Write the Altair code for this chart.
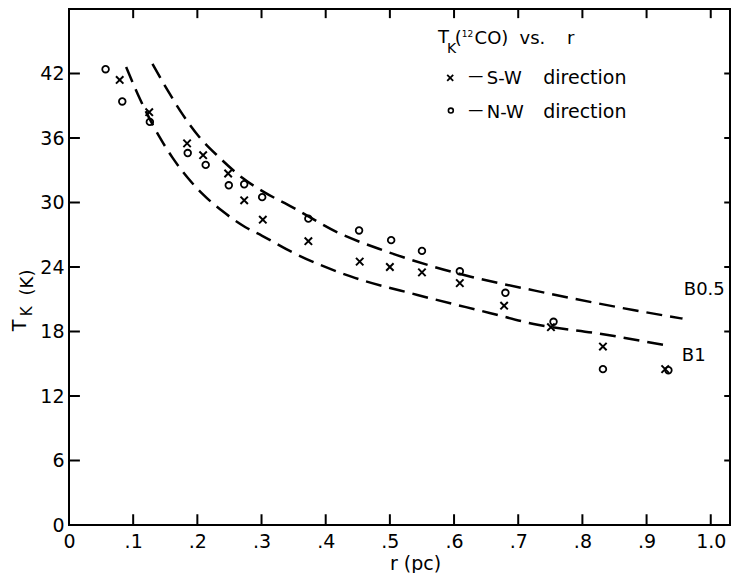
import altair as alt
import pandas as pd

# ---- data ----
SW_R = [0.079, 0.125, 0.184, 0.209, 0.248, 0.273, 0.302, 0.373, 0.453, 0.500, 0.550, 0.609, 0.678, 0.751, 0.832, 0.929]
SW_T = [41.4, 38.4, 35.5, 34.4, 32.7, 30.2, 28.4, 26.4, 24.5, 24.0, 23.5, 22.5, 20.4, 18.4, 16.6, 14.5]

NW_R = [0.057, 0.083, 0.126, 0.185, 0.213, 0.249, 0.273, 0.301, 0.373, 0.452, 0.502, 0.550, 0.609, 0.680, 0.755, 0.832, 0.934]
NW_T = [42.4, 39.4, 37.5, 34.6, 33.5, 31.6, 31.7, 30.5, 28.5, 27.4, 26.5, 25.5, 23.6, 21.6, 18.9, 14.5, 14.4]

B1_R = [0.089, 0.107, 0.141, 0.161, 0.185, 0.208, 0.239, 0.275, 0.301, 0.347, 0.440, 0.543, 0.657, 0.724, 0.827, 0.931]
B1_T = [42.6, 40.1, 36.1, 34.2, 32.3, 30.8, 29.2, 27.7, 26.9, 25.4, 23.1, 21.4, 19.7, 18.7, 17.8, 16.7]

B05_R = [0.130, 0.154, 0.177, 0.203, 0.234, 0.270, 0.306, 0.347, 0.419, 0.492, 0.564, 0.626, 0.726, 0.879, 0.956]
B05_T = [42.9, 40.4, 38.2, 36.1, 34.2, 32.3, 30.9, 29.6, 27.2, 25.5, 24.1, 23.1, 21.8, 20.0, 19.2]

X_LABELS = [0, 0.1, 0.2, 0.3, 0.4, 0.5, 0.6, 0.7, 0.8, 0.9, 1.0]
Y_LABELS = [0, 6, 12, 18, 24, 30, 36, 42]
X_TICKS = [0.1, 0.2, 0.3, 0.4, 0.5, 0.6, 0.7, 0.8, 0.9, 1.0]
Y_TICKS = [6, 12, 18, 24, 30, 36, 42]

CURVE_LABELS = ["B0.5", "B1"]
CURVE_LABEL_R = [0.958, 0.955]
CURVE_LABEL_T = [21.9, 15.7]

# legend block: title with sub/superscripts, then two symbol rows
LEG_TEXT = ["T", "K", "(", "12", "CO)", "vs.", "r",
            "—", "S-W", "direction",
            "—", "N-W", "direction"]
LEG_R = [0.575, 0.589, 0.601, 0.612, 0.632, 0.702, 0.776,
         0.622, 0.651, 0.739,
         0.622, 0.651, 0.739]
LEG_T = [44.85, 43.9, 44.75, 45.35, 44.75, 44.75, 44.75,
         41.3, 41.05, 41.05,
         38.15, 37.9, 37.9]
LEG_SIZE = [18, 14, 18, 9, 18, 18, 18,
            15, 18, 19,
            15, 18, 19]
LEG_SYM_R = [0.594, 0.595]
LEG_SYM_T = [41.6, 38.55]

# rotated y-axis title pieces
YT_TEXT = ["T", "K", "(K)"]
YT_R = [-0.0764, -0.0655, -0.0640]
YT_T = [18.57, 19.87, 22.56]
YT_SIZE = [19, 15, 18]

X_DOMAIN = [0, 1.03]
Y_DOMAIN = [0, 48]

FONT = "DejaVu Sans"

xs = alt.Scale(domain=X_DOMAIN, nice=False, zero=False)
ys = alt.Scale(domain=Y_DOMAIN, nice=False, zero=False)

x_axis = alt.Axis(
    values=X_LABELS,
    labelExpr="datum.value == 0 ? '0' : (datum.value == 1 ? '1.0' : '.' + format(datum.value * 10, 'd'))",
    ticks=False, domain=False, grid=False, labelFlush=False, labelOverlap=False,
    labelFont=FONT, labelFontSize=19, labelColor="black", labelPadding=7,
    title="r (pc)", titleFont=FONT, titleFontSize=19, titleFontWeight="normal",
    titleColor="black", titleX=346, titleY=38, titleBaseline="middle", titleAlign="center",
)
y_axis = alt.Axis(
    values=Y_LABELS, format="d",
    ticks=False, domain=False, grid=False, labelFlush=False, labelOverlap=False,
    labelFont=FONT, labelFontSize=19, labelColor="black", labelPadding=5,
    title=None,
)


def X(field="r"):
    return alt.X(f"{field}:Q", scale=xs, axis=x_axis)


def Y(field="t"):
    return alt.Y(f"{field}:Q", scale=ys, axis=y_axis)


sw = pd.DataFrame({"r": SW_R, "t": SW_T})
nw = pd.DataFrame({"r": NW_R, "t": NW_T})
b1 = pd.DataFrame({"r": B1_R, "t": B1_T})
b05 = pd.DataFrame({"r": B05_R, "t": B05_T})

dash = dict(color="black", strokeWidth=2.5, strokeDash=[16, 8], interpolate="monotone")
curve_b1 = alt.Chart(b1).mark_line(**dash).encode(x=X(), y=Y())
curve_b05 = alt.Chart(b05).mark_line(**dash).encode(x=X(), y=Y())

CROSS = "M-1,-1L1,1M-1,1L1,-1"

pts_sw = alt.Chart(sw).mark_point(
    shape=CROSS, filled=False, size=55, strokeWidth=2, color="black", opacity=1
).encode(x=X(), y=Y())

pts_nw = alt.Chart(nw).mark_point(
    shape="circle", filled=False, size=44, strokeWidth=1.8, color="black", opacity=1
).encode(x=X(), y=Y())

# inward tick marks on all four sides
xt = pd.DataFrame({"r": X_TICKS})
yt = pd.DataFrame({"t": Y_TICKS})
rule = dict(color="black", strokeWidth=2)
tick_bottom = alt.Chart(xt).mark_rule(**rule).encode(
    x=X(), y=alt.datum(0, scale=ys, axis=y_axis), y2=alt.datum(1.0))
tick_top = alt.Chart(xt).mark_rule(**rule).encode(
    x=X(), y=alt.datum(48, scale=ys, axis=y_axis), y2=alt.datum(47.15))
tick_left = alt.Chart(yt).mark_rule(**rule).encode(
    y=Y(), x=alt.datum(0, scale=xs, axis=x_axis), x2=alt.datum(0.017))
tick_right = alt.Chart(yt).mark_rule(**rule).encode(
    y=Y(), x=alt.datum(1.03, scale=xs, axis=x_axis), x2=alt.datum(1.021))

# curve labels
cl = pd.DataFrame({"r": CURVE_LABEL_R, "t": CURVE_LABEL_T, "s": CURVE_LABELS})
curve_text = alt.Chart(cl).mark_text(
    align="left", baseline="middle", font=FONT, fontSize=18, color="black", fill="black"
).encode(x=X(), y=Y(), text="s:N")

leg = pd.DataFrame({"r": LEG_R, "t": LEG_T, "s": LEG_TEXT, "fs": LEG_SIZE})
legend_text = alt.Chart(leg).mark_text(
    align="left", baseline="alphabetic", font=FONT, color="black", fill="black"
).encode(
    x=X(), y=Y(), text="s:N", size=alt.Size("fs:Q", scale=None, legend=None),
)
leg_sw = alt.Chart(pd.DataFrame({"r": LEG_SYM_R[:1], "t": LEG_SYM_T[:1]})).mark_point(
    shape=CROSS, filled=False, size=36, strokeWidth=1.8, color="black", opacity=1
).encode(x=X(), y=Y())
leg_nw = alt.Chart(pd.DataFrame({"r": LEG_SYM_R[1:], "t": LEG_SYM_T[1:]})).mark_point(
    shape="circle", filled=False, size=24, strokeWidth=1.6, color="black", opacity=1
).encode(x=X(), y=Y())

ytd = pd.DataFrame({"r": YT_R, "t": YT_T, "s": YT_TEXT, "fs": YT_SIZE})
ytitle = alt.Chart(ytd).mark_text(
    align="center", baseline="middle", angle=270, font=FONT, color="black", fill="black"
).encode(
    x=X(), y=Y(), text="s:N", size=alt.Size("fs:Q", scale=None, legend=None),
)

chart = alt.layer(
    curve_b1, curve_b05, pts_sw, pts_nw,
    tick_bottom, tick_top, tick_left, tick_right,
    curve_text, legend_text, leg_sw, leg_nw, ytitle,
).properties(
    width=661, height=516,
    autosize=alt.AutoSizeParams(type="none"),
    padding={"left": 61, "top": 1, "right": 1, "bottom": 48},
    background="white",
).configure_view(stroke="black", strokeWidth=2)

chart.save("out.html", embed_options={"renderer": "svg", "actions": False})
